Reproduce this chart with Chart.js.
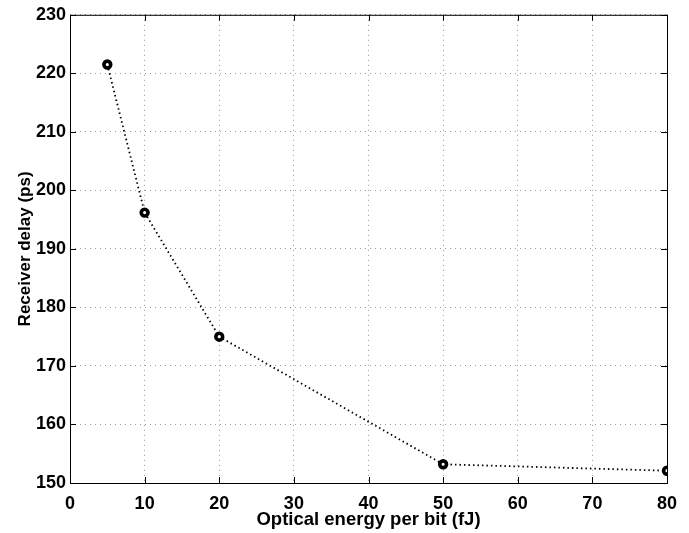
<!DOCTYPE html>
<html><head><meta charset="utf-8">
<script src="https://cdn.jsdelivr.net/npm/chart.js@4"></script>
<style>html,body{margin:0;padding:0;background:#fff;}#wrap{width:689px;height:533px;}</style>
</head><body><div id="wrap"><canvas id="c" width="689" height="533"></canvas></div>
<script>
const energy = [5, 10, 20, 50, 80];
const delay = [221.5, 196.2, 175.0, 153.2, 152.1];
const xTicks = [0, 10, 20, 30, 40, 50, 60, 70, 80];
const yTicks = [150, 160, 170, 180, 190, 200, 210, 220, 230];
const xTitle = 'Optical energy per bit (fJ)';
const yTitle = 'Receiver delay (ps)';

const FONT = "'Liberation Sans', Arial, Helvetica, sans-serif";

const frame = {
  id: 'frame',
  afterDraw(chart) {
    const {ctx, chartArea: a, scales: {x, y}} = chart;
    ctx.save();
    ctx.strokeStyle = '#000';
    ctx.lineWidth = 1;
    ctx.setLineDash([]);
    ctx.strokeRect(a.left + 0.5, a.top + 0.5, a.right - a.left, a.bottom - a.top);
    const L = 6;
    ctx.beginPath();
    xTicks.forEach(v => {
      const px = Math.round(x.getPixelForValue(v)) + 0.5;
      ctx.moveTo(px, a.bottom); ctx.lineTo(px, a.bottom - L);
      ctx.moveTo(px, a.top); ctx.lineTo(px, a.top + L);
    });
    yTicks.forEach(v => {
      const py = Math.round(y.getPixelForValue(v)) + 0.5;
      ctx.moveTo(a.left, py); ctx.lineTo(a.left + L, py);
      ctx.moveTo(a.right, py); ctx.lineTo(a.right - L, py);
    });
    ctx.stroke();
    ctx.restore();
  }
};

new Chart(document.getElementById('c'), {
  type: 'scatter',
  data: {
    datasets: [{
      data: energy.map((e, i) => ({x: e, y: delay[i]})),
      showLine: true,
      borderColor: '#000',
      borderWidth: 1.8,
      borderDash: [1.5, 3],
      pointRadius: 3.4,
      pointBorderWidth: 3.6,
      pointBorderColor: '#000',
      pointBackgroundColor: '#fff',
      tension: 0
    }]
  },
  options: {
    responsive: false,
    animation: false,
    devicePixelRatio: 1,
    layout: {padding: {left: 0, right: 22, top: 13, bottom: 0}},
    plugins: {legend: {display: false}, tooltip: {enabled: false}},
    scales: {
      x: {
        type: 'linear', min: 0, max: 80,
        afterBuildTicks: s => { s.ticks = xTicks.map(v => ({value: v})); },
        afterFit: s => { s.height = 50; },
        grid: {color: '#999', lineWidth: 1, drawTicks: false},
        border: {display: false, dash: [1, 4]},
        ticks: {color: '#000', padding: 10, font: {family: FONT, size: 18, weight: 'bold'}},
        title: {display: true, text: xTitle, color: '#000', padding: {top: 0, bottom: 2}, font: {family: FONT, size: 18.5, weight: 'bold'}}
      },
      y: {
        type: 'linear', min: 150, max: 230,
        afterBuildTicks: s => { s.ticks = yTicks.map(v => ({value: v})); },
        afterFit: s => { s.width = 70; },
        grid: {color: '#999', lineWidth: 1, drawTicks: false},
        border: {display: false, dash: [1, 4]},
        ticks: {color: '#000', padding: 4, font: {family: FONT, size: 18, weight: 'bold'}},
        title: {display: true, text: yTitle, color: '#000', padding: {top: 15, bottom: 0}, font: {family: FONT, size: 17, weight: 'bold'}}
      }
    }
  },
  plugins: [frame]
});
</script></body></html>
